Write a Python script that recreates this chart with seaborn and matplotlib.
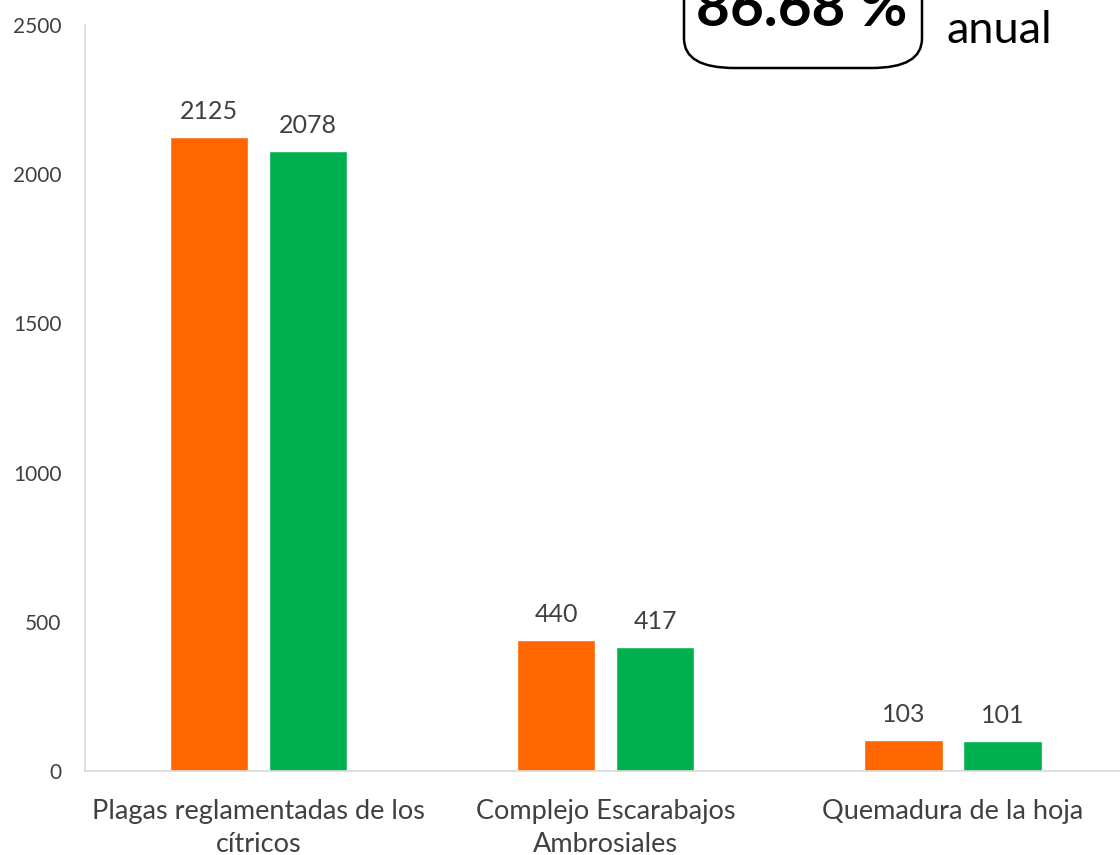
import matplotlib
matplotlib.use("Agg")
import matplotlib.pyplot as plt
import seaborn as sns
import pandas as pd
from matplotlib.patches import FancyBboxPatch

# values
categories = ["Plagas reglamentadas de los\ncítricos", "Complejo Escarabajos\nAmbrosiales", "Quemadura de la hoja"]
series = ["Serie 1", "Serie 2"]
values_1 = [2125, 440, 103]
values_2 = [2078, 417, 101]
colors = ["#FF6600", "#00B050"]
y_ticks = [0, 500, 1000, 1500, 2000, 2500]

df = pd.DataFrame({
    "categoria": categories * 2,
    "serie": [series[0]] * 3 + [series[1]] * 3,
    "valor": values_1 + values_2,
})

sns.set_theme(style="white")
plt.rcParams["font.family"] = ["Lato", "DejaVu Sans"]
text_col = "#404040"
grid_col = "#D9D9D9"

fig = plt.figure(figsize=(11.2, 8.55), dpi=100)
ax = fig.add_axes([0.0759, 0.0982, 0.93, 0.8726])

sns.barplot(data=df, x="categoria", y="valor", hue="serie", palette=colors,
            width=0.57, gap=0.21, saturation=1, legend=False, ax=ax)

for c in ax.containers:
    ax.bar_label(c, fmt="%d", padding=10, fontsize=18, color=text_col)

ax.set_ylim(0, 2500)
ax.set_xlim(-0.5, 2.5)
ax.set_yticks(y_ticks)
ax.set_xlabel("")
ax.set_ylabel("")
ax.tick_params(axis="y", labelsize=15, colors=text_col, length=7, color=grid_col, width=1, pad=10)
ax.tick_params(axis="x", labelsize=19.5, colors=text_col, length=0, pad=20)
for lbl in ax.get_xticklabels():
    lbl.set_linespacing(1.4)
for s in ["top", "right"]:
    ax.spines[s].set_visible(False)
for s in ["left", "bottom"]:
    ax.spines[s].set_color(grid_col)
    ax.spines[s].set_linewidth(1.2)

# rounded box with the annual percentage (cut by the top edge)
box = FancyBboxPatch((684 / 1120, 1 - 68 / 855), 238 / 1120, 0.2,
                     boxstyle="round,pad=0,rounding_size=0.045",
                     transform=fig.transFigure, fill=False, edgecolor="black",
                     linewidth=1.8, mutation_aspect=855 / 1120)
fig.add_artist(box)
fig.text(802 / 1120, 1 - 26 / 855, "86.68 %", ha="center", va="baseline",
         fontsize=42, fontweight="bold", color="black")
fig.text(947 / 1120, 1 - 43 / 855, "anual", ha="left", va="baseline",
         fontsize=32.5, color="black")

fig.savefig("out.png", dpi=100)
